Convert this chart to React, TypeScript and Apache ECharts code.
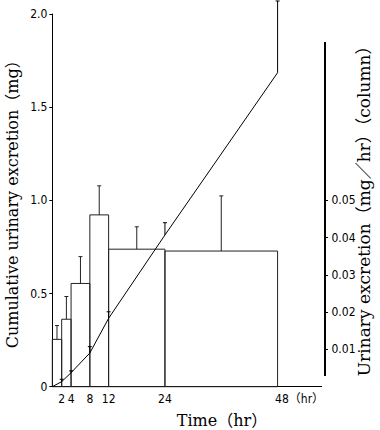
import React, { useEffect, useRef } from "react";
import * as echarts from "echarts";

// Excretion-rate columns (mg/hr), one per collection interval
const intervalStart = [0, 2, 4, 8, 12, 24];
const intervalEnd = [2, 4, 8, 12, 24, 48];
const rateMean = [0.0127, 0.0181, 0.0277, 0.0461, 0.0369, 0.0364];
const rateSD = [0.0037, 0.0061, 0.0072, 0.0078, 0.006, 0.0148];

// Cumulative urinary excretion (mg)
const cumTime = [0, 2, 4, 8, 12, 24, 48];
const cumMean = [0, 0.027, 0.075, 0.181, 0.367, 0.814, 1.685];
const cumSD = [0, 0.013, 0.01, 0.034, 0.035, 0.066, 0.385];

// Tick labels
const xTicks = [2, 4, 8, 12, 24, 48];
const leftTicks = [0, 0.5, 1.0, 1.5, 2.0];
const rightTicks = [0.01, 0.02, 0.03, 0.04, 0.05];

const NUM_FONT = "'Liberation Sans Narrow', 'DejaVu Sans Condensed', 'Noto Sans CJK JP', sans-serif";
const TITLE_FONT = "'DejaVu Serif', 'Noto Sans CJK JP', serif";

export default function App() {
  const ref = useRef<HTMLDivElement>(null);

  useEffect(() => {
    document.body.style.margin = "0";
    if (!ref.current) return;
    const chart = echarts.init(ref.current, undefined, { renderer: "svg" });

    const barData = intervalStart.map((s, i) => [s, intervalEnd[i], rateMean[i], rateSD[i]]);
    const cumLine = cumTime.map((t, i) => [t, cumMean[i]]);
    const cumErr = cumTime
      .map((t, i) => [t, cumMean[i], cumSD[i]])
      .filter((d) => d[2] > 0);

    const cap = 2;

    const option: any = {
      animation: false,
      grid: {
        left: 52.3,
        right: 58.3,
        top: 14,
        bottom: 43.3,
        containLabel: false,
        outerBoundsMode: "none",
      },
      xAxis: {
        type: "value",
        min: 0,
        max: 57.4,
        splitLine: { show: false },
        axisLine: { lineStyle: { color: "#000", width: 1 } },
        axisTick: { show: false },
        axisLabel: {
          customValues: xTicks,
          margin: 6,
          color: "#000",
          fontFamily: NUM_FONT,
          fontSize: 12,
          formatter: (v: number) => (v === 48 ? "{u|48（hr）}" : String(v)),
          rich: {
            u: { padding: [0, 0, 0, 44], fontFamily: NUM_FONT, fontSize: 12, color: "#000" },
          },
        },
        name: "Time（hr）",
        nameLocation: "middle",
        nameGap: 26,
        nameMoveOverlap: false,
        nameTextStyle: {
          fontFamily: TITLE_FONT,
          fontSize: 16,
          color: "#000",
          padding: [0, 0, 0, 70],
        },
      },
      yAxis: [
        {
          type: "value",
          min: 0,
          max: 2,
          interval: 0.5,
          splitLine: { show: false },
          axisLine: { show: true, lineStyle: { color: "#000", width: 1 } },
          axisTick: { show: true, length: 3, lineStyle: { color: "#000" }, customValues: leftTicks },
          axisLabel: {
            customValues: leftTicks,
            margin: 5,
            color: "#000",
            fontFamily: NUM_FONT,
            fontSize: 12,
            formatter: (v: number) => (v === 0 ? "0" : v.toFixed(1)),
          },
          name: "Cumulative urinary excretion（mg）",
          nameLocation: "middle",
          nameRotate: 90,
          nameGap: 32,
          nameMoveOverlap: false,
          nameTextStyle: { fontFamily: TITLE_FONT, fontSize: 16, color: "#000" },
        },
        {
          type: "value",
          position: "right",
          offset: 3.3,
          min: 0,
          max: 0.1,
          splitLine: { show: false },
          axisLine: { show: false },
          axisTick: { show: true, length: 3, lineStyle: { color: "#000" }, customValues: rightTicks },
          axisLabel: {
            customValues: rightTicks,
            margin: 6.5,
            color: "#000",
            fontFamily: NUM_FONT,
            fontSize: 12,
            formatter: (v: number) => v.toFixed(2),
          },
          name: "Urinary excretion（mg／hr）（column）",
          nameLocation: "middle",
          nameRotate: 90,
          nameGap: 30,
          nameMoveOverlap: false,
          nameTextStyle: {
            fontFamily: TITLE_FONT,
            fontSize: 17,
            color: "#000",
            padding: [0, 13, 0, 0],
          },
        },
      ],
      graphic: [
        {
          type: "line",
          shape: { x1: 325, y1: 42, x2: 325, y2: 376 },
          style: { stroke: "#000", lineWidth: 2 },
        },
      ],
      series: [
        {
          type: "custom",
          name: "rate",
          xAxisIndex: 0,
          yAxisIndex: 1,
          clip: false,
          encode: { x: [0, 1], y: 2 },
          data: barData,
          renderItem: (params: any, api: any) => {
            const s = api.value(0);
            const e = api.value(1);
            const v = api.value(2);
            const sd = api.value(3);
            const tl = api.coord([s, v]);
            const br = api.coord([e, 0]);
            const mid = (s + e) / 2;
            const top = api.coord([mid, v]);
            const errTop = api.coord([mid, v + sd]);
            return {
              type: "group",
              children: [
                {
                  type: "rect",
                  shape: { x: tl[0], y: tl[1], width: br[0] - tl[0], height: br[1] - tl[1] },
                  style: { fill: "none", stroke: "#222", lineWidth: 1 },
                },
                {
                  type: "line",
                  shape: { x1: top[0], y1: top[1], x2: errTop[0], y2: errTop[1] },
                  style: { stroke: "#222", lineWidth: 1 },
                },
                {
                  type: "line",
                  shape: { x1: errTop[0] - cap, y1: errTop[1], x2: errTop[0] + cap, y2: errTop[1] },
                  style: { stroke: "#222", lineWidth: 1 },
                },
              ],
            };
          },
          z: 1,
        },
        {
          type: "line",
          name: "cumulative",
          xAxisIndex: 0,
          yAxisIndex: 0,
          data: cumLine,
          showSymbol: false,
          symbol: "none",
          smooth: false,
          lineStyle: { color: "#000", width: 1 },
          z: 3,
        },
        {
          type: "custom",
          name: "cumErr",
          xAxisIndex: 0,
          yAxisIndex: 0,
          clip: false,
          encode: { x: 0, y: 1 },
          data: cumErr,
          renderItem: (params: any, api: any) => {
            const t = api.value(0);
            const v = api.value(1);
            const sd = api.value(2);
            const p = api.coord([t, v]);
            const q = api.coord([t, v + sd]);
            return {
              type: "group",
              children: [
                {
                  type: "line",
                  shape: { x1: p[0], y1: p[1], x2: q[0], y2: q[1] },
                  style: { stroke: "#000", lineWidth: 1 },
                },
                {
                  type: "line",
                  shape: { x1: q[0] - cap, y1: q[1], x2: q[0] + cap, y2: q[1] },
                  style: { stroke: "#000", lineWidth: 1 },
                },
              ],
            };
          },
          z: 3,
        },
      ],
    };

    chart.setOption(option);
    return () => chart.dispose();
  }, []);

  return <div ref={ref} style={{ width: 380, height: 430 }} />;
}
